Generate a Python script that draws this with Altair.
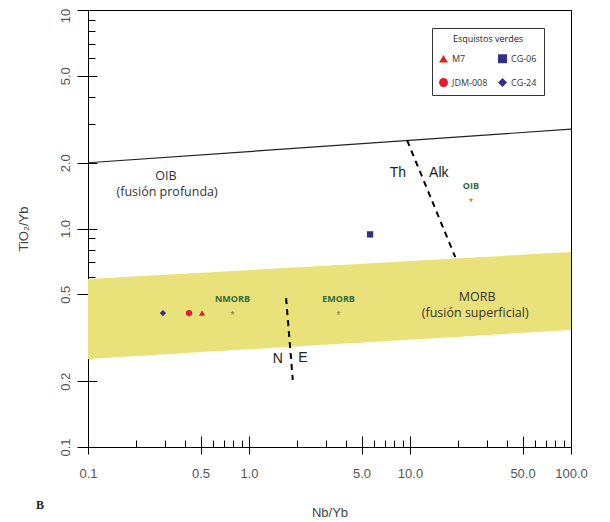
import altair as alt
import pandas as pd

# ---- data ----
band_x = [0.1, 100.0]
band_low = [0.253, 0.343]
band_high = [0.587, 0.78]

upper_x = [0.1, 100.0]
upper_y = [2.0, 2.85]

thalk_x = [9.6, 19.1]
thalk_y = [2.53, 0.74]

ne_x = [1.70, 1.87]
ne_y = [0.48, 0.203]

sample_names = ["M7", "JDM-008", "CG-24", "CG-06"]
sample_nb = [0.511, 0.424, 0.292, 5.65]
sample_ti = [0.41, 0.41, 0.41, 0.94]

legend_order = ["M7", "JDM-008", "CG-06", "CG-24"]
legend_shapes = ["triangle-up", "circle", "square", "diamond"]
legend_colors = ["#d6281e", "#e6192e", "#343088", "#3b2d8f"]

ref_names = ["NMORB", "EMORB", "OIB"]
ref_nb = [0.79, 3.6, 23.9]
ref_ti = [0.41, 0.41, 1.35]

region_text = ["OIB", "(fusión profunda)", "MORB", "(fusión superficial)"]
region_x = [0.305, 0.31, 26.1, 25.4]
region_y = [1.74, 1.47, 0.485, 0.41]

div_text = ["Th", "Alk", "N", "E"]
div_x = [8.41, 15.1, 1.51, 2.16]
div_y = [1.80, 1.80, 0.253, 0.256]

x_major = [0.1, 0.5, 1, 5, 10, 50, 100]
x_minor = [0.2, 0.3, 0.4, 0.6, 0.7, 0.8, 0.9, 2, 3, 4, 6, 7, 8, 9,
           20, 30, 40, 60, 70, 80, 90]
y_major = [0.1, 0.2, 0.5, 1, 2, 5, 10]
y_minor = [0.3, 0.4, 0.6, 0.7, 0.8, 0.9, 3, 4, 6, 7, 8, 9]

W, H = 483, 437

xs = alt.Scale(type="log", domain=[0.1, 100], nice=False)
ys = alt.Scale(type="log", domain=[0.1, 10], nice=False)

band_df = pd.DataFrame({"x": band_x, "lo": band_low, "hi": band_high})
upper_df = pd.DataFrame({"x": upper_x, "y": upper_y})
dash_df = pd.DataFrame({
    "x": thalk_x + ne_x,
    "y": thalk_y + ne_y,
    "seg": ["thalk"] * 2 + ["ne"] * 2,
})
samp_df = pd.DataFrame({"name": sample_names, "x": sample_nb, "y": sample_ti})
ref_df = pd.DataFrame({"name": ref_names, "x": ref_nb, "y": ref_ti})
reg_df = pd.DataFrame({"t": region_text, "x": region_x, "y": region_y})
div_df = pd.DataFrame({"t": div_text, "x": div_x, "y": div_y})

major_x_test = "indexof([0.1,0.5,1,5,10,50,100], datum.value) >= 0"
major_y_test = "indexof([0.1,0.2,0.5,1,2,5,10], datum.value) >= 0"

# band layer carries the inward tick axes
band = alt.Chart(band_df).mark_area(color="#e9e27a", opacity=1).encode(
    x=alt.X("x:Q", scale=xs, axis=alt.Axis(
        orient="top", offset=-H, values=x_major + x_minor, labels=False,
        domain=False, title=None, grid=False,
        tickSize={"condition": {"test": major_x_test, "value": 11}, "value": 7})),
    y=alt.Y("lo:Q", scale=ys, axis=alt.Axis(
        orient="right", offset=-W, values=y_major + y_minor, labels=False,
        domain=False, title=None, grid=False,
        tickSize={"condition": {"test": major_y_test, "value": 9}, "value": 7})),
    y2="hi:Q",
)

upper = alt.Chart(upper_df).mark_line(color="#222", strokeWidth=1.2).encode(
    x=alt.X("x:Q", scale=xs, axis=alt.Axis(
        orient="bottom", values=x_major, format=".1f", tickSize=7,
        labelFontSize=13, labelPadding=13, title="Nb/Yb", titleFontSize=13,
        titlePadding=26, labelFlush=False)),
    y=alt.Y("y:Q", scale=ys, axis=alt.Axis(
        orient="left", values=y_major, format=".1f", tickSize=11,
        labelFontSize=13, labelAngle=270, labelPadding=5, labelAlign="center",
        labelBaseline="bottom", labelFlush=False,
        title="TiO₂/Yb", titleFontSize=13, titlePadding=29)),
)

dashes = alt.Chart(dash_df).mark_line(color="black", strokeWidth=2,
                                       strokeDash=[6, 5]).encode(
    x=alt.X("x:Q", scale=xs, axis=None),
    y=alt.Y("y:Q", scale=ys, axis=None),
    detail="seg:N",
)

stars = alt.Chart(ref_df).mark_text(text="*", fontSize=10, color="#7b7850",
                                    dy=3).encode(
    x=alt.X("x:Q", scale=xs, axis=None),
    y=alt.Y("y:Q", scale=ys, axis=None),
)

ref_labels = alt.Chart(ref_df).mark_text(fontSize=9, fontWeight="bold",
                                         color="#2f6b3c", dy=-14,
                                         font="Open Sans").encode(
    x=alt.X("x:Q", scale=xs, axis=None),
    y=alt.Y("y:Q", scale=ys, axis=None),
    text="name:N",
)

regions = alt.Chart(reg_df).mark_text(fontSize=12.5, color="#333",
                                      font="Open Sans").encode(
    x=alt.X("x:Q", scale=xs, axis=None),
    y=alt.Y("y:Q", scale=ys, axis=None),
    text="t:N",
)

divs = alt.Chart(div_df).mark_text(fontSize=14, color="#222",
                                   font="Liberation Sans").encode(
    x=alt.X("x:Q", scale=xs, axis=None),
    y=alt.Y("y:Q", scale=ys, axis=None),
    text="t:N",
)

points = alt.Chart(samp_df).mark_point(filled=True, opacity=1, size=40).encode(
    x=alt.X("x:Q", scale=xs, axis=None),
    y=alt.Y("y:Q", scale=ys, axis=None),
    shape=alt.Shape("name:N", scale=alt.Scale(domain=legend_order,
                                              range=legend_shapes),
                    legend=alt.Legend(title="Esquistos verdes")),
    color=alt.Color("name:N", scale=alt.Scale(domain=legend_order,
                                              range=legend_colors),
                    legend=alt.Legend(title="Esquistos verdes")),
)

blabel = alt.Chart(pd.DataFrame({"t": ["B"]})).mark_text(
    font="Liberation Serif", fontWeight="bold", fontSize=12, color="#222"
).encode(x=alt.value(-48), y=alt.value(495), text="t:N")

chart = alt.layer(band, upper, dashes, stars, ref_labels, regions, divs,
                  points, blabel).resolve_axis(
    x="independent", y="independent"
).properties(
    width=W, height=H,
    autosize=alt.AutoSizeParams(type="none"),
    padding={"left": 80, "top": 2, "right": 20, "bottom": 72},
).configure_view(
    stroke="black", strokeWidth=1
).configure_axis(
    grid=False, domainColor="black", tickColor="black", labelColor="#555",
    titleColor="#444", labelFont="Liberation Sans", titleFont="Liberation Sans",
    titleFontWeight="normal"
).configure_legend(
    orient="none", legendX=344, legendY=18, columns=2, strokeColor="#333",
    fillColor="white", padding=7, titleFontSize=9, titleFontWeight="normal",
    titleFont="Open Sans", titleColor="#222", titleAnchor="middle",
    titlePadding=10, labelFontSize=9, labelFont="Open Sans", labelColor="#333",
    symbolSize=80, rowPadding=14, columnPadding=10, symbolStrokeWidth=0,
    symbolOpacity=1, cornerRadius=0
)

chart.save("out.html", embed_options={"renderer": "svg", "actions": False})
